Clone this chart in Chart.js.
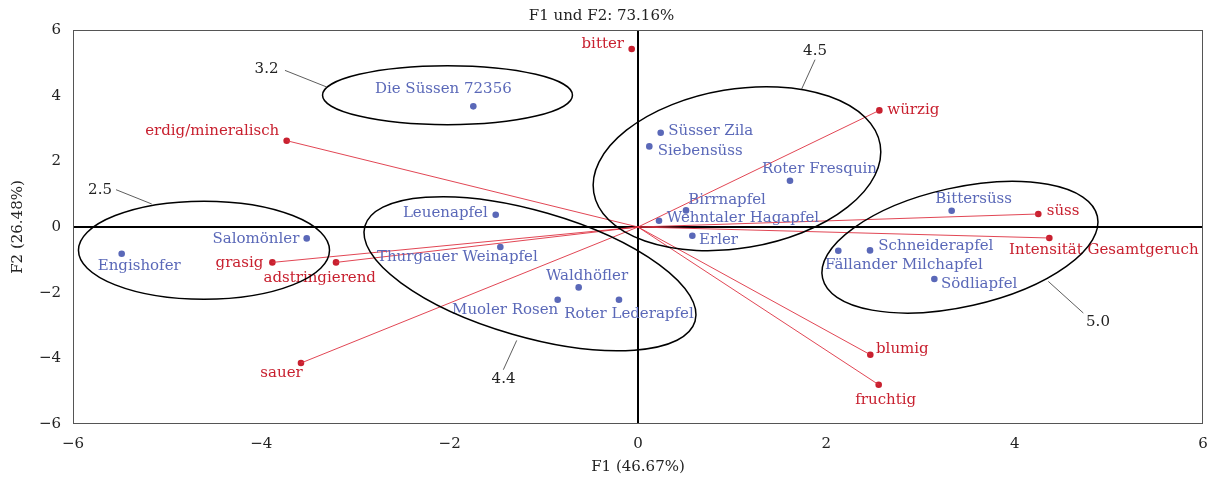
<!DOCTYPE html>
<html><head><meta charset="utf-8">
<script src="https://cdn.jsdelivr.net/npm/chart.js@4/dist/chart.umd.min.js"></script>
<style>html,body{margin:0;padding:0;background:#fff}#wrap{width:1208px;height:477px}</style>
</head><body><div id="wrap"><canvas id="c" width="1208" height="477"></canvas></div>
<script>
// ---------- data ----------
const titleText = 'F1 und F2: 73.16%';
const xAxisTitle = 'F1 (46.67%)';
const yAxisTitle = 'F2 (26.48%)';
const xTickValues = [-6, -4, -2, 0, 2, 4, 6];
const yTickValues = [-6, -4, -2, 0, 2, 4, 6];

// observations (varieties)
const obsNames = ['Die Süssen 72356', 'Süsser Zila', 'Siebensüss', 'Roter Fresquin', 'Birrnapfel',
  'Wehntaler Hagapfel', 'Erler', 'Leuenapfel', 'Thurgauer Weinapfel', 'Waldhöfler', 'Muoler Rosen',
  'Roter Lederapfel', 'Salomönler', 'Engishofer', 'Bittersüss', 'Schneiderapfel',
  'Fällander Milchapfel', 'Södliapfel'];
const obsF1 = [-1.749, 0.241, 0.120, 1.614, 0.510, 0.223, 0.577, -1.511, -1.462, -0.630, -0.853,
  -0.202, -3.518, -5.483, 3.331, 2.464, 2.127, 3.147];
const obsF2 = [3.674, 2.872, 2.455, 1.410, 0.506, 0.192, -0.265, 0.375, -0.609, -1.840, -2.214,
  -2.214, -0.347, -0.813, 0.496, -0.712, -0.722, -1.584];

// variables (attributes)
const varNames = ['bitter', 'würzig', 'erdig/mineralisch', 'süss', 'Intensität Gesamtgeruch',
  'grasig', 'adstringierend', 'sauer', 'blumig', 'fruchtig'];
const varF1 = [-0.067, 2.563, -3.731, 4.251, 4.368, -3.883, -3.207, -3.579, 2.467, 2.556];
const varF2 = [5.422, 3.552, 2.629, 0.396, -0.335, -1.078, -1.078, -4.143, -3.890, -4.803];
const varShowVector = [false, true, true, true, true, true, true, true, true, true];

// group ellipses (centre and two conjugate semi-axis vectors, data units)
const groupLabels = ['3.2', '2.5', '4.4', '4.5', '5.0'];
const groupCenterF1 = [-2.023, -4.609, -1.147, 1.051, 3.419];
const groupCenterF2 = [4.015, -0.707, -1.422, 1.776, -0.615];
const groupAxisU = [[1.327, 0], [1.333, 0], [1.753, -1.450], [1.521, 0.730], [1.459, 0.943]];
const groupAxisV = [[0, 0.899], [0, 1.493], [-0.186, -1.843], [0.139, -2.388], [0.139, -1.768]];
const groupLabelF1 = [-3.945, -5.713, -1.428, 1.880, 4.885];
const groupLabelF2 = [4.822, 1.136, -4.621, 5.370, -2.885];
const leaderFromF1 = [-3.749, -5.543, -1.430, 1.880, 4.729];
const leaderFromF2 = [4.770, 1.136, -4.347, 5.096, -2.620];
const leaderToF1 = [-3.306, -5.164, -1.288, 1.738, 4.357];
const leaderToF2 = [4.264, 0.701, -3.454, 4.203, -1.657];

// ---------- label placement (style) ----------
const obsLabelPlace = [
  ['center', -30, -17], ['left', 7.5, -1.5], ['left', 8.5, 5], ['center', 29.5, -12], ['left', 2.3, -10.7],
  ['left', 7.7, -2.4], ['left', 6.7, 4], ['right', -8, -1.7], ['center', -43, 10.6], ['center', 8.3, -11.7],
  ['right', 0.6, 10.7], ['center', 10, 14.3], ['right', -7.4, 0.6], ['center', 17.5, 12.7], ['center', 22, -11.4],
  ['left', 8.3, -4], ['left', -13.3, 14.7], ['left', 6.7, 4.7]];
const varLabelPlace = [
  ['right', -7.7, -5], ['left', 8, -0.7], ['right', -7.4, -9.3], ['left', 8.4, -2.6], ['center', 54.5, 12.4],
  ['right', -9, 0.6], ['center', -16.3, 15.6], ['right', 1.7, 10], ['left', 5.7, -5.7], ['center', 7, 15]];

const FONT = '"DejaVu Serif", "Liberation Serif", serif';
const FS = 15;
const BLUE = '#5a68b8';
const RED = '#c8202f';
const RED_LINE = 'rgba(222,50,65,0.9)';
const TXT = '#222';

Chart.defaults.font.family = FONT;
Chart.defaults.font.size = FS;
Chart.defaults.color = TXT;

const fmt = v => (v < 0 ? '\u2212' + Math.abs(v) : String(v));

const datasets = [];
varNames.forEach((n, i) => {
  if (!varShowVector[i]) return;
  datasets.push({
    type: 'scatter', label: n,
    data: [{x: 0, y: 0}, {x: varF1[i], y: varF2[i]}],
    showLine: true, borderColor: RED_LINE, borderWidth: 1, pointRadius: 0, fill: false
  });
});
datasets.push({
  type: 'scatter', label: 'Variablen',
  data: varF1.map((x, i) => ({x, y: varF2[i]})),
  pointRadius: 3.3, pointBackgroundColor: RED, pointBorderWidth: 0, borderWidth: 0
});
datasets.push({
  type: 'scatter', label: 'Beobachtungen',
  data: obsF1.map((x, i) => ({x, y: obsF2[i]})),
  pointRadius: 3.3, pointBackgroundColor: BLUE, pointBorderWidth: 0, borderWidth: 0
});

const framePlugin = {
  id: 'frame',
  beforeDatasetsDraw(chart) {
    const {ctx, chartArea: a} = chart;
    ctx.save();
    ctx.strokeStyle = '#555';
    ctx.lineWidth = 1;
    ctx.strokeRect(Math.round(a.left) + 0.5, Math.round(a.top) + 0.5,
      Math.round(a.right - a.left) - 1, Math.round(a.bottom - a.top) - 1);
    ctx.restore();
  }
};

const overlayPlugin = {
  id: 'overlay',
  afterDatasetsDraw(chart) {
    const {ctx} = chart;
    const xs = chart.scales.x, ys = chart.scales.y;
    const px = v => xs.getPixelForValue(v), py = v => ys.getPixelForValue(v);
    ctx.save();
    ctx.font = FS + 'px ' + FONT;
    ctx.textBaseline = 'middle';
    obsNames.forEach((n, i) => {
      const [al, dx, dy] = obsLabelPlace[i];
      ctx.textAlign = al; ctx.fillStyle = BLUE;
      ctx.fillText(n, px(obsF1[i]) + dx, py(obsF2[i]) + dy);
    });
    varNames.forEach((n, i) => {
      const [al, dx, dy] = varLabelPlace[i];
      ctx.textAlign = al; ctx.fillStyle = RED;
      ctx.fillText(n, px(varF1[i]) + dx, py(varF2[i]) + dy);
    });
    groupLabels.forEach((g, i) => {
      const cx = px(groupCenterF1[i]), cy = py(groupCenterF2[i]);
      const ux = px(groupCenterF1[i] + groupAxisU[i][0]) - cx, uy = py(groupCenterF2[i] + groupAxisU[i][1]) - cy;
      const vx = px(groupCenterF1[i] + groupAxisV[i][0]) - cx, vy = py(groupCenterF2[i] + groupAxisV[i][1]) - cy;
      ctx.save();
      ctx.beginPath();
      ctx.transform(ux, uy, vx, vy, cx, cy);
      ctx.arc(0, 0, 1, 0, Math.PI * 2);
      ctx.restore();
      ctx.lineWidth = 1.5; ctx.strokeStyle = '#000';
      ctx.stroke();
      ctx.beginPath();
      ctx.moveTo(px(leaderFromF1[i]), py(leaderFromF2[i]));
      ctx.lineTo(px(leaderToF1[i]), py(leaderToF2[i]));
      ctx.lineWidth = 0.8; ctx.strokeStyle = '#333';
      ctx.stroke();
      ctx.fillStyle = TXT; ctx.textAlign = 'center';
      ctx.fillText(g, px(groupLabelF1[i]), py(groupLabelF2[i]));
    });
    ctx.restore();
  }
};

const zeroGrid = {
  drawTicks: false,
  color: c => (c.tick && c.tick.value === 0 ? '#000' : 'rgba(0,0,0,0)'),
  lineWidth: 2
};

new Chart(document.getElementById('c'), {
  type: 'scatter',
  data: {datasets},
  options: {
    responsive: false, animation: false, events: [],
    layout: {padding: {left: 0, right: 5, top: 0, bottom: 0}},
    plugins: {
      legend: {display: false}, tooltip: {enabled: false},
      title: {display: true, text: titleText, color: TXT,
        font: {size: FS, weight: 'normal', family: FONT}, padding: {top: 7, bottom: 5}}
    },
    scales: {
      x: {
        type: 'linear', min: -6, max: 6,
        afterBuildTicks: s => { s.ticks = xTickValues.map(v => ({value: v})); },
        ticks: {callback: v => fmt(v), padding: 11, maxRotation: 0, autoSkip: false, color: TXT},
        grid: zeroGrid, border: {display: false},
        title: {display: true, text: xAxisTitle, color: TXT, padding: {top: 0, bottom: 1}},
        afterFit: s => { s.height = 53; s.paddingLeft = 0; s.paddingRight = 0; }
      },
      y: {
        type: 'linear', min: -6, max: 6,
        afterBuildTicks: s => { s.ticks = yTickValues.map(v => ({value: v})); },
        ticks: {callback: v => fmt(v), padding: 12, autoSkip: false, color: TXT},
        grid: zeroGrid, border: {display: false},
        title: {display: true, text: yAxisTitle, color: TXT, padding: {top: 9, bottom: 0}},
        afterFit: s => { s.width = 73; s.paddingTop = 0; s.paddingBottom = 0; }
      }
    }
  },
  plugins: [framePlugin, overlayPlugin]
});
</script></body></html>
